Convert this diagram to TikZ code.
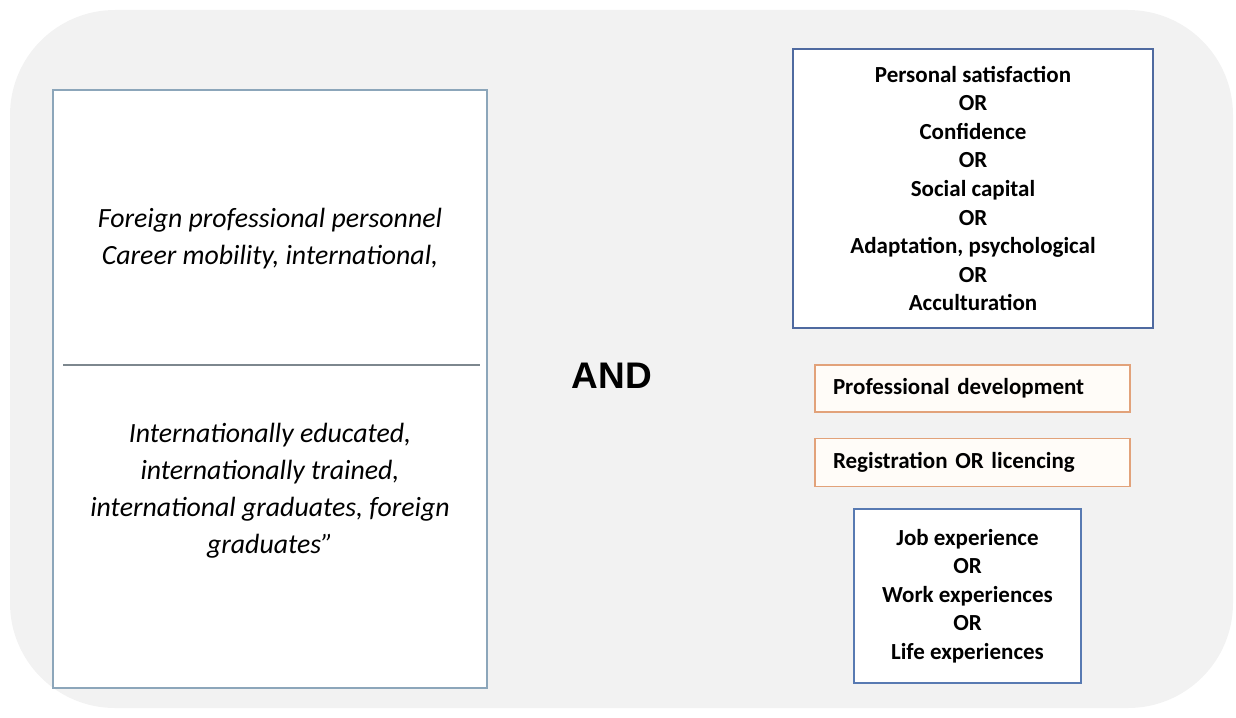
\documentclass[tikz,border=0pt]{standalone}
\usepackage{fontspec}
\setmainfont{Carlito}
\newfontfamily\andfont{Liberation Sans}
\usepackage{tikz}
\definecolor{panel}{RGB}{242, 242, 242}
\definecolor{grayblue}{RGB}{140, 166, 186}
\definecolor{darkblue}{RGB}{79, 106, 160}
\definecolor{midblue}{RGB}{88, 122, 178}
\definecolor{peach}{RGB}{226, 162, 122}
\definecolor{peachfill}{RGB}{255, 252, 248}
\definecolor{rule}{RGB}{125, 135, 142}

\begin{document}
\begin{tikzpicture}[x=1pt, y=-1pt, 
leftbox/.style={draw=grayblue, line width=1.2, fill=white, inner sep=0},
orbox/.style={draw=darkblue, line width=1.2, fill=white, align=center, inner sep=0,
  font=\fontsize{23}{28.6}\selectfont\bfseries},
termbox/.style={draw=peach, line width=1.2, fill=peachfill, inner sep=0, 
  text width=315, align=left, font=\fontsize{23}{26}\selectfont\bfseries},
itext/.style={align=center, inner sep=0, font=\fontsize{27.8}{37}\selectfont\itshape},
]

  \useasboundingbox (0, 0) rectangle (1236, 717);
  \fill[panel, rounded corners=105] (10, 10) rectangle (1233, 708);

  \node[leftbox, minimum width=434, minimum height=598] (lbox) at (270, 389) {};
  \node[itext] (foreign) at (270, 239) {Foreign professional personnel\\Career mobility, international,};
  \node[itext] (intl) at (270, 491) {Internationally educated,\\internationally trained,\\international graduates, foreign\\graduates''};
  \coordinate (divl) at (63, 365);
  \coordinate (divr) at (480, 365);
  \draw[rule, line width=1.6] (divl) -- (divr);

  \node[font=\andfont\fontsize{37}{40}\selectfont\bfseries, inner sep=0] (and) at (612, 376) {AND};

  %
  \node[orbox, minimum width=360, minimum height=279] (outcomes) at (973, 188.5) 
    {Personal satisfaction\\OR\\Confidence\\OR\\Social capital\\OR\\Adaptation, psychological\\OR\\Acculturation};

  \node[termbox, minimum height=47] (profdev) at (972.5, 388.5) {\hspace*{18pt}Professional development};
  \node[termbox, minimum height=48] (regist) at (972.5, 462.5) {\hspace*{18pt}Registration OR licencing};

  \node[orbox, draw=midblue, minimum width=227, minimum height=174] (experience) at (967.5, 596) 
    {Job experience\\OR\\Work experiences\\OR\\Life experiences};

\end{tikzpicture}
\end{document}
